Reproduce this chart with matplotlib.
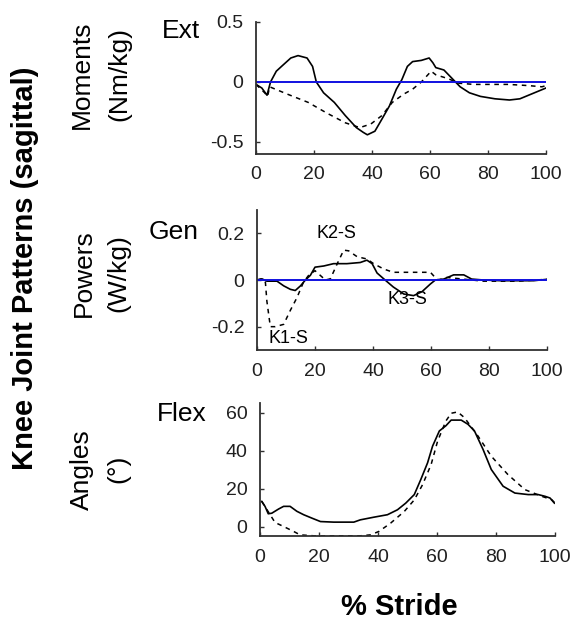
import matplotlib
matplotlib.use('Agg')
from matplotlib import pyplot as plt

plt.rcParams['font.family'] = ['Liberation Sans', 'DejaVu Sans']

# knee moments (Nm/kg) vs % stride
moment_solid_x = [0, 2, 3.8, 5, 7, 8.8, 12, 14.5, 17.6, 19.5, 20.8, 23.3, 27, 30.8, 34.6, 37, 38.4, 41,
                  43.4, 46, 48.4, 50.3, 52.2, 54, 57, 59.7, 61, 62, 64.8, 68, 70.4, 73.6, 77.4, 82.4,
                  87.4, 91, 95, 100]
moment_solid = [-0.02, -0.05, -0.11, 0.0, 0.09, 0.13, 0.2, 0.22, 0.2, 0.13, 0.0, -0.09, -0.17, -0.28,
                -0.38, -0.42, -0.44, -0.41, -0.31, -0.2, -0.06, 0.02, 0.13, 0.17, 0.18, 0.2, 0.16,
                0.12, 0.1, 0.02, -0.04, -0.09, -0.12, -0.14, -0.15, -0.14, -0.1, -0.05]
moment_dash_x = [0, 3, 4, 4.7, 10.7, 18, 24.5, 30.8, 35.8, 39.6, 43.4, 47, 51, 54, 57, 60.4, 62, 66,
                 70, 75, 81, 87, 94, 98.6, 100]
moment_dash = [-0.02, -0.09, -0.12, -0.04, -0.1, -0.17, -0.26, -0.34, -0.38, -0.35, -0.28, -0.17,
               -0.1, -0.06, 0.0, 0.09, 0.06, 0.03, -0.01, -0.02, -0.02, -0.02, -0.03, -0.04, -0.03]

# knee powers (W/kg)
power_solid_x = [0, 1.7, 3.4, 6.9, 9.2, 11.5, 13.2, 15, 16.7, 18.4, 20, 23, 26.4, 31, 35.6, 37.9,
                 39.7, 41.4, 43.7, 47, 50.6, 54, 56.9, 59.8, 61.5, 64.4, 67.8, 71.3, 74, 78, 84,
                 95.4, 100]
power_solid = [0.0, 0.005, -0.005, -0.005, -0.025, -0.04, -0.045, -0.025, 0.0, 0.02, 0.055, 0.06,
               0.07, 0.07, 0.075, 0.085, 0.07, 0.03, 0.005, -0.03, -0.06, -0.067, -0.05, -0.017,
               0.0, 0.004, 0.022, 0.022, 0.004, 0.0, -0.003, -0.003, 0.003]
power_dash_x = [0, 1.7, 2.9, 3.4, 4.6, 6.3, 9.2, 11.5, 13.8, 16, 17.8, 20, 21.8, 23.6, 25.3, 27.6,
                29.9, 31.6, 34.5, 37.9, 40.2, 43.7, 47, 51.7, 56.3, 59.8, 61.5, 62.6, 65.5, 71, 78,
                89.7, 100]
power_dash = [0.0, 0.005, -0.01, -0.09, -0.2, -0.2, -0.19, -0.13, -0.075, -0.01, 0.02, 0.04, 0.02,
              0.0, 0.005, 0.068, 0.128, 0.125, 0.1, 0.09, 0.07, 0.047, 0.033, 0.033, 0.033, 0.033,
              0.01, 0.0, 0.011, 0.004, -0.005, -0.005, 0.003]

# knee flexion angle (deg)
angle_solid_x = [0.6, 1.7, 2.8, 4, 6.3, 8, 10.2, 12.5, 14.8, 17.6, 20.5, 25, 31.8, 34, 38.6, 43.2,
                 46.6, 49.4, 52.3, 54.5, 56.8, 58.5, 60.8, 63, 64.8, 68.2, 70.5, 72.7, 75.6, 78.4,
                 82.4, 86.4, 90.9, 94.3, 96.6, 98.3, 99.8]
angle_solid = [13.2, 10.6, 6.7, 7, 9.2, 10.6, 10.6, 8, 6.2, 4.4, 2.6, 2.3, 2.3, 3.5, 4.9, 6.2, 8.8,
               12.3, 16.8, 24.7, 33.5, 42.3, 50.3, 53, 56, 56, 53.8, 50.3, 40.6, 30, 21.2, 17.6,
               16.8, 16.8, 15.9, 15, 12.3]
angle_dash_x = [0.6, 5.1, 8, 11.4, 13.6, 19.3, 25, 34, 37.5, 40.3, 44.3, 48.9, 52.3, 55.1, 58, 60.2,
                63, 64.8, 67, 69.3, 73.9, 78.4, 84, 89.8, 95.5, 98.9, 100]
angle_dash = [13.2, 2.1, 0, -2.6, -4.4, -5, -4.9, -4.9, -4.4, -2.6, 1.8, 7.9, 14, 22, 32.6, 44.9,
              55.5, 59.6, 60.3, 57.3, 47.6, 37, 27.4, 19.4, 15.9, 14.1, 12.3]

x_ticks = [0, 20, 40, 60, 80, 100]
moment_ticks = [-0.5, 0, 0.5]
power_ticks = [-0.2, 0, 0.2]
angle_ticks = [0, 20, 40, 60]

W, H = 570, 625
fig = plt.figure(figsize=(W / 100, H / 100), dpi=100)


def px(x, y):
    return x / W, 1 - y / H


def style(ax, yticks, ylim, ticklabels):
    ax.set_xlim(0, 100)
    ax.set_ylim(*ylim)
    ax.set_xticks(x_ticks)
    ax.set_yticks(yticks)
    ax.set_yticklabels(ticklabels)
    for s in ['top', 'right']:
        ax.spines[s].set_visible(False)
    for s in ['left', 'bottom']:
        ax.spines[s].set_linewidth(1.3)
        ax.spines[s].set_color('#303030')
    ax.tick_params(direction='in', length=3, width=1, colors='#303030', labelsize=14,
                   labelcolor='#202020')
    ax.tick_params(axis='x', pad=9)
    ax.tick_params(axis='y', pad=9)
    ax.patch.set_alpha(0)


ax1 = fig.add_axes([256 / W, 1 - 154 / H, 290 / W, 132 / H])
ax1.plot(moment_solid_x, moment_solid, 'k-', lw=1.2)
ax1.plot(moment_dash_x, moment_dash, 'k--', lw=1.1, dashes=(3, 3))
ax1.plot([0, 100], [0, 0], color='#1010e0', lw=1.4)
style(ax1, moment_ticks, (-0.6, 0.5), ['-0.5', '0', '0.5'])

ax2 = fig.add_axes([257 / W, 1 - 350 / H, 290 / W, 140 / H])
ax2.plot(power_solid_x, power_solid, 'k-', lw=1.2)
ax2.plot(power_dash_x, power_dash, 'k--', lw=1.1, dashes=(3, 3))
ax2.plot([0, 100], [0, 0], color='#1010e0', lw=1.4)
style(ax2, power_ticks, (-0.3, 0.3), ['-0.2', '0', '0.2'])
ax2.text(10.7, -0.25, 'K1-S', fontsize=13, ha='center', va='center')
ax2.text(27.5, 0.2, 'K2-S', fontsize=13, ha='center', va='center')
ax2.text(51.8, -0.085, 'K3-S', fontsize=13, ha='center', va='center')

ax3 = fig.add_axes([260 / W, 1 - 536 / H, 295 / W, 133 / H])
ax3.plot(angle_solid_x, angle_solid, 'k-', lw=1.2)
ax3.plot(angle_dash_x, angle_dash, 'k--', lw=1.1, dashes=(3, 3))
style(ax3, angle_ticks, (-5, 65), ['0', '20', '40', '60'])

# panel labels
fig.text(*px(181, 31), 'Ext', fontsize=19, ha='center', va='center')
fig.text(*px(174, 232), 'Gen', fontsize=19, ha='center', va='center')
fig.text(*px(182, 414), 'Flex', fontsize=19, ha='center', va='center')

fig.text(*px(82, 75), 'Moments', fontsize=19, rotation=90, ha='center', va='center')
fig.text(*px(119, 74), '(Nm/kg)', fontsize=19, rotation=90, ha='center', va='center')
fig.text(*px(84, 273), 'Powers', fontsize=19, rotation=90, ha='center', va='center')
fig.text(*px(118, 273), '(W/kg)', fontsize=19, rotation=90, ha='center', va='center')
fig.text(*px(82, 470), 'Angles', fontsize=19, rotation=90, ha='center', va='center')
fig.text(*px(118, 469), '(°)', fontsize=19, rotation=90, ha='center', va='center')

fig.text(*px(25, 268), 'Knee Joint Patterns (sagittal)', fontsize=21, fontweight='bold',
         rotation=90, ha='center', va='center')
fig.text(*px(399, 607), '% Stride', fontsize=21, fontweight='bold', ha='center', va='center')

fig.savefig('out.png', dpi=100)
